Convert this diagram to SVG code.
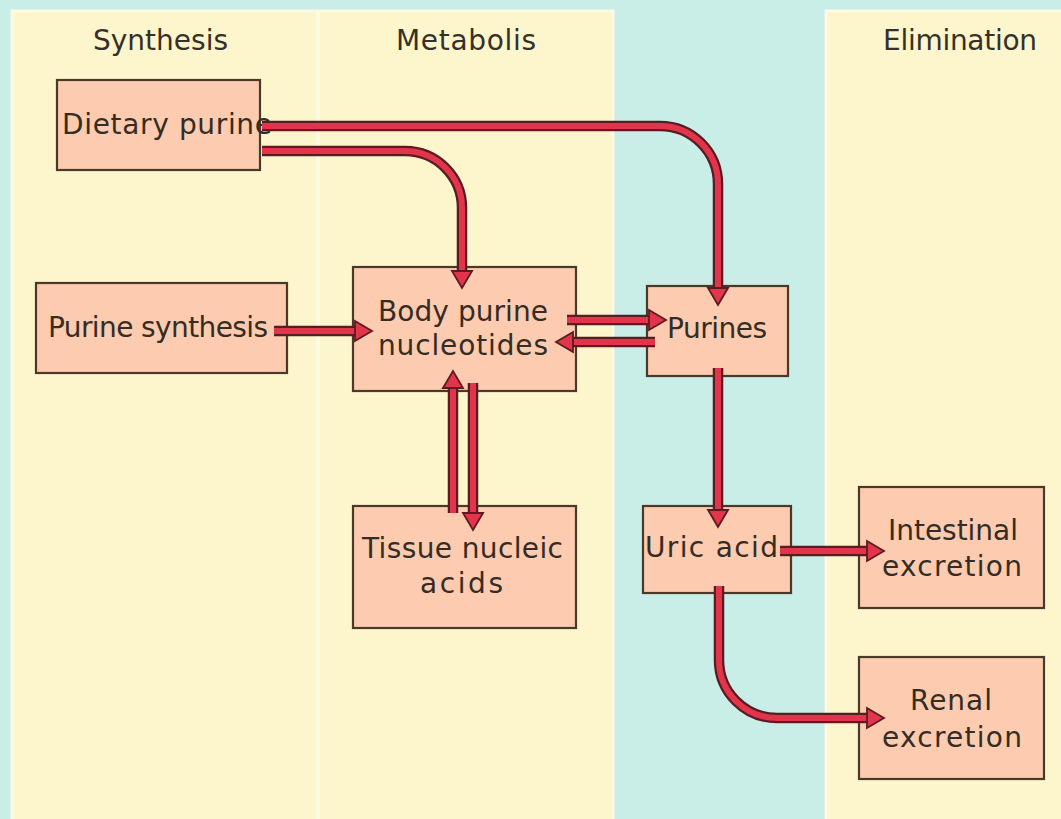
<svg xmlns="http://www.w3.org/2000/svg" width="1061" height="819" viewBox="0 0 1061 819">
<defs>
<style>
.panel{fill:#fdf5cc;stroke:#fcf9e4;stroke-width:3}
.box{fill:#fccbb0;stroke:#4a3828;stroke-width:2.2}
.t{font-family:"DejaVu Sans","Liberation Sans",sans-serif;font-size:28px;fill:#352c24}
.h{font-family:"DejaVu Sans","Liberation Sans",sans-serif;font-size:28px;fill:#35302a}
.ol{fill:none;stroke:#5a1c22;stroke-width:10.5}
.co{fill:none;stroke:#e2354c;stroke-width:6;marker-end:url(#head)}
</style>
<marker id="head" viewBox="-2 -12 21 24" markerWidth="21" markerHeight="24" refX="0" refY="0" orient="auto" markerUnits="userSpaceOnUse">
<polygon points="0,-10 17,0 0,10" fill="#e2354c" stroke="#5a1c22" stroke-width="1.8" stroke-linejoin="miter"/>
</marker>
</defs>
<rect width="1061" height="819" fill="#c9ede7"/>
<g id="panels">
<rect class="panel" x="12" y="11" width="601" height="812"/>
<rect x="316" y="11" width="4" height="812" fill="#fffbe2"/>
<rect class="panel" x="826" y="11" width="240" height="812"/>
<text class="h" x="93" y="50" textLength="135">Synthesis</text>
<text class="h" x="396" y="50" textLength="140">Metabolis</text>
<text class="h" x="883" y="50" textLength="154">Elimination</text>
</g>
<g id="dietary-purine">
<rect class="box" x="57" y="80" width="203" height="90"/>
<text class="t" x="62" y="134" textLength="210">Dietary purine</text>
</g>
<g id="purine-synthesis">
<rect class="box" x="36" y="283" width="251" height="90"/>
<text class="t" x="48" y="337" textLength="220">Purine synthesis</text>
</g>
<g id="body-purine-nucleotides">
<rect class="box" x="353" y="267" width="223" height="124"/>
<text class="t" x="378" y="321" textLength="170">Body purine</text>
<text class="t" x="378" y="355" textLength="170">nucleotides</text>
</g>
<g id="purines">
<rect class="box" x="647" y="286" width="141" height="90"/>
<text class="t" x="667" y="338" textLength="100">Purines</text>
</g>
<g id="tissue-nucleic-acids">
<rect class="box" x="353" y="506" width="223" height="122"/>
<text class="t" x="362" y="558" textLength="201">Tissue nucleic</text>
<text class="t" x="420" y="593" textLength="83">acids</text>
</g>
<g id="uric-acid">
<rect class="box" x="643" y="506" width="148" height="87"/>
<text class="t" x="645" y="557" textLength="133">Uric acid</text>
</g>
<g id="intestinal-excretion">
<rect class="box" x="859" y="487" width="185" height="121"/>
<text class="t" x="888" y="540" textLength="130">Intestinal</text>
<text class="t" x="882" y="576" textLength="140">excretion</text>
</g>
<g id="renal-excretion">
<rect class="box" x="859" y="657" width="185" height="122"/>
<text class="t" x="910" y="710" textLength="82">Renal</text>
<text class="t" x="882" y="747" textLength="140">excretion</text>
</g>
<g id="connectors">
<path class="ol" d="M262 126 H660 A58 58 0 0 1 718 184 V288"/>
<path class="co" d="M262 126 H660 A58 58 0 0 1 718 184 V288"/>
<path class="ol" d="M262 151 H405 A57 57 0 0 1 462 208 V271"/>
<path class="co" d="M262 151 H405 A57 57 0 0 1 462 208 V271"/>
<path class="ol" d="M274 331 H355"/>
<path class="co" d="M274 331 H355"/>
<path class="ol" d="M567 320 H649"/>
<path class="co" d="M567 320 H649"/>
<path class="ol" d="M655 342 H573"/>
<path class="co" d="M655 342 H573"/>
<path class="ol" d="M453 513 V388"/>
<path class="co" d="M453 513 V388"/>
<path class="ol" d="M473 383 V513"/>
<path class="co" d="M473 383 V513"/>
<path class="ol" d="M718 368 V510"/>
<path class="co" d="M718 368 V510"/>
<path class="ol" d="M780 551 H867"/>
<path class="co" d="M780 551 H867"/>
<path class="ol" d="M719 586 V660 A58 58 0 0 0 777 718 H867"/>
<path class="co" d="M719 586 V660 A58 58 0 0 0 777 718 H867"/>
</g>
</svg>
